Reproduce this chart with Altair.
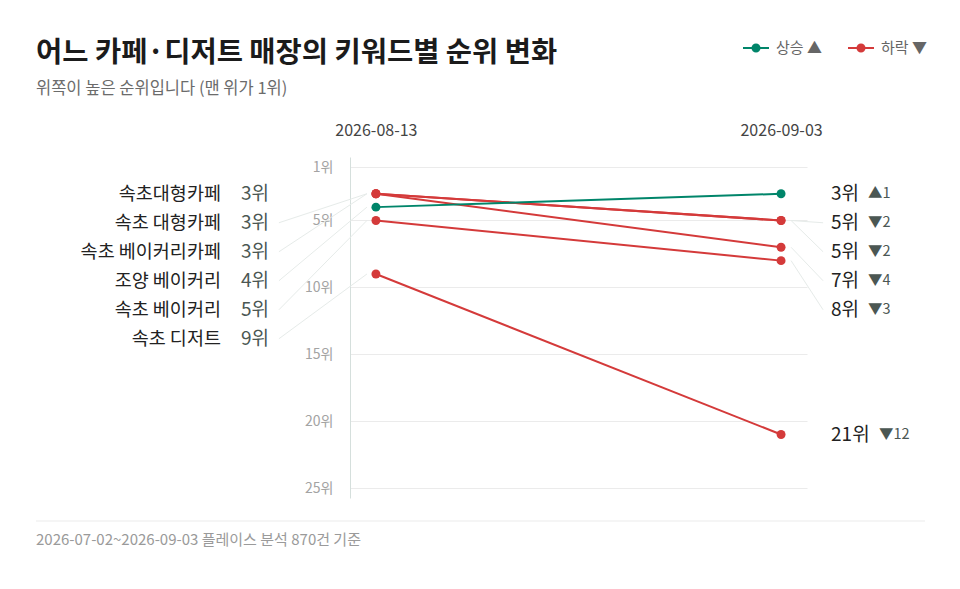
import pandas as pd
import altair as alt

FONT = "Noto Sans CJK KR"
GREEN = "#00856a"
RED = "#d43a3a"

# data
keywords = ["속초대형카페", "속초 대형카페", "속초 베이커리카페", "조양 베이커리", "속초 베이커리", "속초 디저트"]
rank_start = [3, 3, 3, 4, 5, 9]
rank_end = [5, 5, 7, 3, 8, 21]
dates = ["2026-08-13", "2026-09-03"]
rank_ticks = [1, 5, 10, 15, 20, 25]
moves = ["상승 ▲", "하락 ▼"]

title = "어느 카페·디저트 매장의 키워드별 순위 변화"
subtitle = "위쪽이 높은 순위입니다 (맨 위가 1위)"
footer = "2026-07-02~2026-09-03 플레이스 분석 870건 기준"

PLOT_W, PLOT_H = 457, 341
PAD = 10
px_per_rank = (PLOT_H - 2 * PAD) / (rank_ticks[-1] - rank_ticks[0])
gap = 29 / px_per_rank  # minimum label spacing, in rank units


def spread(ranks):
    """push labels down so they don't overlap"""
    order = sorted(range(len(ranks)), key=lambda i: ranks[i])
    out = [0.0] * len(ranks)
    prev = None
    for i in order:
        y = ranks[i] if prev is None else max(ranks[i], prev + gap)
        out[i] = y
        prev = y
    return out


left_y = spread(rank_start)
right_y = spread(rank_end)

rows = []
for i, k in enumerate(keywords):
    up = rank_end[i] < rank_start[i]
    move = moves[0] if up else moves[1]
    diff = abs(rank_end[i] - rank_start[i])
    rows.append(dict(keyword=k, date=dates[0], rank=rank_start[i], label_y=left_y[i],
                     side="left", move=move, text=f"{rank_start[i]}위", change=""))
    rows.append(dict(keyword=k, date=dates[1], rank=rank_end[i], label_y=right_y[i],
                     side="right", move=move, text=f"{rank_end[i]}위",
                     change=("▲" if up else "▼") + str(diff)))
df = pd.DataFrame(rows)

xscale = alt.Scale(type="point", domain=dates, padding=0.064)
xaxis = alt.Axis(orient="top", title=None, ticks=False, domain=False, grid=False, labelAngle=0,
                 labelFontSize=16, labelColor="#444", labelPadding=19)
yscale = alt.Scale(domain=[1, 25], reverse=True, padding=PAD, nice=False, zero=False)
yaxis = alt.Axis(values=rank_ticks, labelExpr="datum.value + '위'", title=None, ticks=False,
                 labelPadding=17, labelColor="#a3a3a3", labelFontSize=14,
                 gridColor="#ebebeb", domainColor="#d5dfdc")


def X(f="date:O"):
    return alt.X(f, scale=xscale, axis=xaxis)


def Y(f):
    return alt.Y(f, scale=yscale, axis=yaxis)


legend = alt.Legend(
    title=None, orient="none", legendX=392, legendY=-123, direction="horizontal",
    symbolType="M-1,0H1M0.27,0A0.27,0.27,0,1,1,-0.27,0A0.27,0.27,0,1,1,0.27,0Z",
    symbolSize=676, symbolStrokeWidth=2, labelFontSize=15, labelColor="#666",
    labelOffset=6, columnPadding=22,
)
color = alt.Color("move:N", scale=alt.Scale(domain=moves, range=[GREEN, RED]), legend=legend)

base = alt.Chart(df)

lines = base.mark_line(strokeWidth=2).encode(x=X(), y=Y("rank:Q"), color=color, detail="keyword:N")
points = base.mark_circle(size=80, opacity=1).encode(x=X(), y=Y("rank:Q"), color=color)

moved = base.transform_filter("datum.label_y != datum.rank")
lead_left = moved.transform_filter("datum.side == 'left'").mark_rule(
    color="#e6ebe9", strokeWidth=1, xOffset=-97, x2Offset=-9
).encode(x=X(), x2="date:O", y=Y("label_y:Q"), y2="rank:Q")
lead_right = moved.transform_filter("datum.side == 'right'").mark_rule(
    color="#e6ebe9", strokeWidth=1, xOffset=10, x2Offset=42
).encode(x=X(), x2="date:O", y=Y("rank:Q"), y2="label_y:Q")

left = base.transform_filter("datum.side == 'left'")
right = base.transform_filter("datum.side == 'right'")
left_names = left.mark_text(align="right", baseline="middle", dx=-155, fontSize=18.5, color="#222").encode(
    x=X(), y=Y("label_y:Q"), text="keyword:N")
left_rank = left.mark_text(align="left", baseline="middle", dx=-135, fontSize=19, color="#4b5753").encode(
    x=X(), y=Y("label_y:Q"), text="text:N")
right_rank = right.mark_text(align="left", baseline="middle", dx=50, fontSize=19, color="#222").encode(
    x=X(), y=Y("label_y:Q"), text="text:N")
right_chg1 = right.transform_filter("datum.rank < 10").mark_text(
    align="left", baseline="middle", dx=87, fontSize=14.5, color="#4b5753").encode(
    x=X(), y=Y("label_y:Q"), text="change:N")
right_chg2 = right.transform_filter("datum.rank >= 10").mark_text(
    align="left", baseline="middle", dx=98, fontSize=14.5, color="#4b5753").encode(
    x=X(), y=Y("label_y:Q"), text="change:N")

note = alt.Chart(pd.DataFrame({"note": [footer]}))
sep = note.mark_rule(color="#ebebeb", strokeWidth=1).encode(
    x=alt.value(-314), x2=alt.value(575), y=alt.value(364))
foot = note.mark_text(align="left", baseline="middle", fontSize=15, color="#9a9a9a").encode(
    x=alt.value(-314), y=alt.value(383), text="note:N")

chart = alt.layer(
    sep, foot, lead_left, lead_right, lines, points,
    left_names, left_rank, right_rank, right_chg1, right_chg2,
).properties(
    width=PLOT_W, height=PLOT_H,
    autosize=alt.AutoSizeParams(type="none"),
    padding={"left": 342, "top": 149, "right": 145, "bottom": 82},
    title=alt.Title(title, subtitle=subtitle, anchor="start", frame="group", dx=-314, dy=90,
                    fontSize=28.5, fontWeight="bold", color="#1b1b1b",
                    subtitleFontSize=16.5, subtitleColor="#6b6b6b", subtitlePadding=13, offset=27),
).configure(font=FONT).configure_view(stroke=None)

chart.save("out.html", embed_options={"renderer": "svg", "actions": False})
